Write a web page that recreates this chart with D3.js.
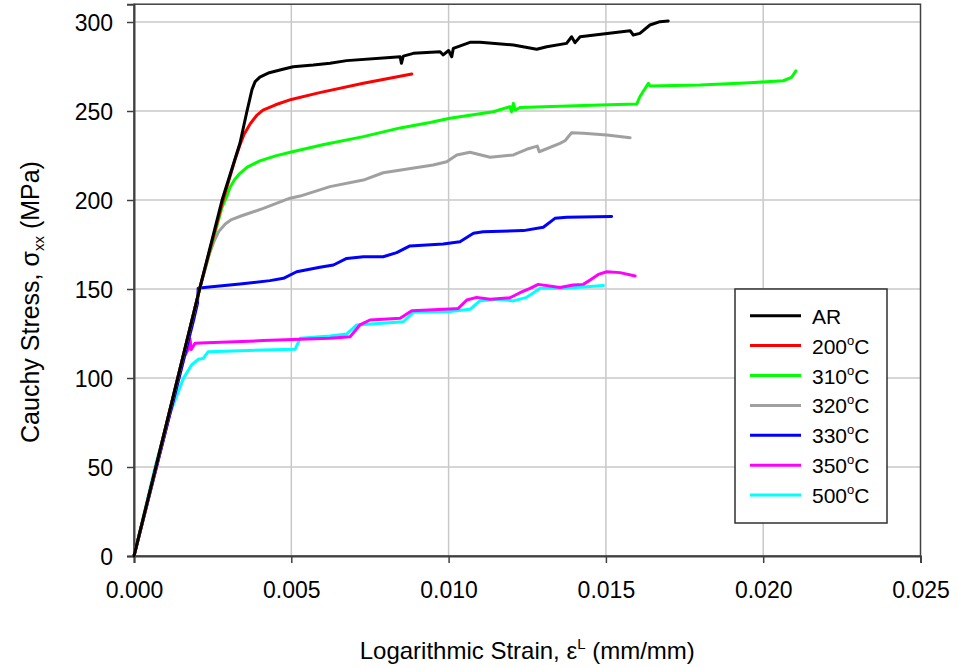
<!DOCTYPE html>
<html><head><meta charset="utf-8">
<script src="https://cdn.jsdelivr.net/npm/d3@7"></script>
<style>
html,body{margin:0;padding:0;background:#fff;}
text{font-family:"Liberation Sans",Arial,sans-serif;fill:#000;}
</style></head>
<body><svg id="chart" width="958" height="668"></svg>
<script>
const seriesNames = ["AR","200","310","320","330","350","500"];
const seriesColors = ["#000000","#ff0000","#00ff00","#a0a0a0","#0000ff","#ff00ff","#00ffff"];
const xTicks = [0,0.005,0.010,0.015,0.020,0.025];
const yTicks = [0,50,100,150,200,250,300];

const AR = [[0,0],[0.0021,151],[0.0028,200],[0.00337,232],[0.00358,249],[0.00375,262],[0.00385,266.5],[0.004,269],[0.0043,271.5],[0.0047,273.3],[0.00506,274.9],[0.0057,275.8],[0.00623,276.8],[0.00676,278.3],[0.00814,280],[0.00846,280.5],[0.0085,276.8],[0.00856,280.8],[0.00888,282.4],[0.00973,283.3],[0.00983,281.5],[0.01,284],[0.0101,280.5],[0.01015,285.2],[0.01068,288.6],[0.011,288.6],[0.01206,287.1],[0.0128,284.7],[0.01312,286.1],[0.01375,288],[0.01391,291.7],[0.01402,288.4],[0.01418,291.7],[0.01577,295.1],[0.01587,292.7],[0.01608,293.6],[0.0164,298.3],[0.01672,300.2],[0.01698,300.6]];
const T200 = [[0,0],[0.0021,151],[0.0028,198],[0.003,210],[0.0032,222],[0.00337,231],[0.0035,237],[0.0037,243],[0.0039,247.5],[0.0041,250.5],[0.0045,253.5],[0.005,256.5],[0.0059,260.3],[0.00729,265.6],[0.00883,270.8]];
const T310 = [[0,0],[0.0021,151],[0.0028,196],[0.00295,202],[0.00305,207],[0.0032,211.5],[0.00337,215],[0.0036,218.5],[0.004,222],[0.0045,224.8],[0.005,227],[0.006,231],[0.00729,235.6],[0.00846,240.5],[0.00941,243.5],[0.01004,245.9],[0.01142,249.6],[0.01195,252.4],[0.012,249.6],[0.01206,254.3],[0.01212,250.5],[0.01227,252],[0.01481,253.4],[0.01598,253.9],[0.01608,258],[0.01635,265.6],[0.0164,264],[0.01799,264.6],[0.01958,265.9],[0.02064,267],[0.0209,268.9],[0.02104,272.5]];
const T320 = [[0,0],[0.0021,151],[0.0024,170],[0.00255,177],[0.0027,182.5],[0.0029,186.5],[0.0031,189],[0.0034,191],[0.00411,195.3],[0.00496,201],[0.00528,202.2],[0.00623,207.5],[0.00729,211.2],[0.00792,215.3],[0.00951,219.7],[0.00994,221.5],[0.01026,225.3],[0.01068,226.8],[0.01132,224],[0.01206,225.3],[0.01248,228.5],[0.01282,230.3],[0.01288,227.1],[0.01354,231.8],[0.0137,233.3],[0.01391,237.8],[0.01428,237.5],[0.01503,236.5],[0.01577,235]];
const T330 = [[0,0],[0.0019,133],[0.00202,142],[0.00204,150.4],[0.00231,151],[0.00337,152.8],[0.00432,154.7],[0.00475,156],[0.00517,159.7],[0.00591,162.2],[0.00634,163.5],[0.00676,167.2],[0.00729,168.1],[0.00792,168.1],[0.00835,170.4],[0.00877,174.2],[0.00983,175.3],[0.01036,176.6],[0.01079,181.3],[0.0111,182.2],[0.01238,182.8],[0.01301,184.7],[0.01338,189.7],[0.01375,190.3],[0.01518,190.8]];
const T350 = [[0,0],[0.0016,112],[0.00175,117],[0.00178,122],[0.00182,116],[0.00194,119.5],[0.00231,119.8],[0.00411,121],[0.00623,122.3],[0.00687,123.2],[0.00718,129.8],[0.0075,132.6],[0.00846,133.5],[0.00883,137.8],[0.01004,138.8],[0.01031,139.1],[0.01058,143.8],[0.01089,145.3],[0.01132,144.2],[0.01195,145.1],[0.01227,147.9],[0.01259,150.4],[0.01285,152.6],[0.01354,150.8],[0.01396,152.2],[0.01428,152.6],[0.0145,155.1],[0.01476,158.2],[0.01503,159.7],[0.01545,159.2],[0.01593,157.3]];
const T500 = [[0,0],[0.00067,50],[0.00114,80],[0.00157,99.8],[0.00183,107.3],[0.00204,110.5],[0.0022,111],[0.00236,114.8],[0.00411,115.7],[0.00512,116.1],[0.00528,122.3],[0.00623,123.6],[0.00676,124.7],[0.00708,129.8],[0.00856,131.6],[0.00888,137],[0.01004,137.3],[0.01068,138.6],[0.011,143.4],[0.01163,144.2],[0.01206,143.3],[0.01248,145.3],[0.01275,148.5],[0.01291,150.4],[0.01365,150.4],[0.01439,151.3],[0.01492,151.9]];
const seriesData = [AR,T200,T310,T320,T330,T350,T500];

const svg = d3.select("#chart");
const L=134, R=920.5, B=556, T=4.2;
const x = d3.scaleLinear().domain([0,0.025]).range([L,R]);
const y = d3.scaleLinear().domain([0,310]).range([B,T]);

// gridlines
svg.append("g").selectAll("line").data(xTicks.filter(d=>d>0&&d<0.025)).join("line")
  .attr("x1",d=>x(d)).attr("x2",d=>x(d)).attr("y1",T).attr("y2",B)
  .attr("stroke","#c8c8c8").attr("stroke-width",1.5);
svg.append("g").selectAll("line").data(yTicks.filter(d=>d>0)).join("line")
  .attr("x1",L).attr("x2",R).attr("y1",d=>y(d)).attr("y2",d=>y(d))
  .attr("stroke","#c8c8c8").attr("stroke-width",1.5);

// frame
svg.append("rect").attr("x",L).attr("y",T).attr("width",R-L).attr("height",B-T)
  .attr("fill","none").attr("stroke","#404040").attr("stroke-width",1.5);

// axes
const xAxis = svg.append("g").attr("transform",`translate(0,${B})`)
  .call(d3.axisBottom(x).tickValues(xTicks).tickFormat(d3.format(".3f")).tickSize(7).tickPadding(19));
const yAxis = svg.append("g").attr("transform",`translate(${L},0)`)
  .call(d3.axisLeft(y).tickValues(yTicks).tickSize(7).tickPadding(14));
[xAxis,yAxis].forEach(a=>{
  a.select(".domain").attr("stroke","#404040").attr("stroke-width",2);
  a.selectAll(".tick line").attr("stroke","#404040").attr("stroke-width",1.5);
  a.selectAll(".tick text").attr("font-size",23).attr("font-family","Liberation Sans, Arial, sans-serif").attr("fill","#000");
});
yAxis.selectAll(".tick text").attr("dy","0.35em");

// lines
const line = d3.line().x(d=>x(d[0])).y(d=>y(d[1]));
const order = [6,5,4,3,2,1,0];
svg.append("g").selectAll("path").data(order).join("path")
  .attr("d",i=>line(seriesData[i])).attr("fill","none")
  .attr("stroke",i=>seriesColors[i]).attr("stroke-width",3)
  .attr("stroke-linejoin","round").attr("stroke-linecap","round");

// axis titles
const xt = svg.append("text").attr("x",(L+R)/2).attr("y",659).attr("text-anchor","middle").attr("font-size",24);
xt.append("tspan").text("Logarithmic Strain, ε");
xt.append("tspan").attr("font-size",15).attr("dy",-10).text("L");
xt.append("tspan").attr("dy",10).text(" (mm/mm)");

const yt = svg.append("text").attr("transform",`translate(39,302) rotate(-90)`).attr("text-anchor","middle").attr("font-size",25);
yt.append("tspan").text("Cauchy Stress, σ");
yt.append("tspan").attr("font-size",15).attr("dy",5).text("xx");
yt.append("tspan").attr("dy",-5).text(" (MPa)");

// legend
const lg = svg.append("g");
lg.append("rect").attr("x",735).attr("y",289).attr("width",152).attr("height",234)
  .attr("fill","#fff").attr("stroke","#303030").attr("stroke-width",1.5);
const items = lg.selectAll("g.item").data(seriesNames).join("g").attr("class","item")
  .attr("transform",(d,i)=>`translate(0,${315.7+i*29.9})`);
items.append("line").attr("x1",750).attr("x2",801).attr("y1",0).attr("y2",0)
  .attr("stroke",(d,i)=>seriesColors[i]).attr("stroke-width",3);
items.each(function(d){
  const t = d3.select(this).append("text").attr("x",812).attr("y",8).attr("font-size",21);
  if(d==="AR"){ t.text("AR"); }
  else {
    t.append("tspan").text(d);
    t.append("tspan").attr("font-size",13).attr("dy",-9).text("o");
    t.append("tspan").attr("dy",9).text("C");
  }
});
</script></body></html>
